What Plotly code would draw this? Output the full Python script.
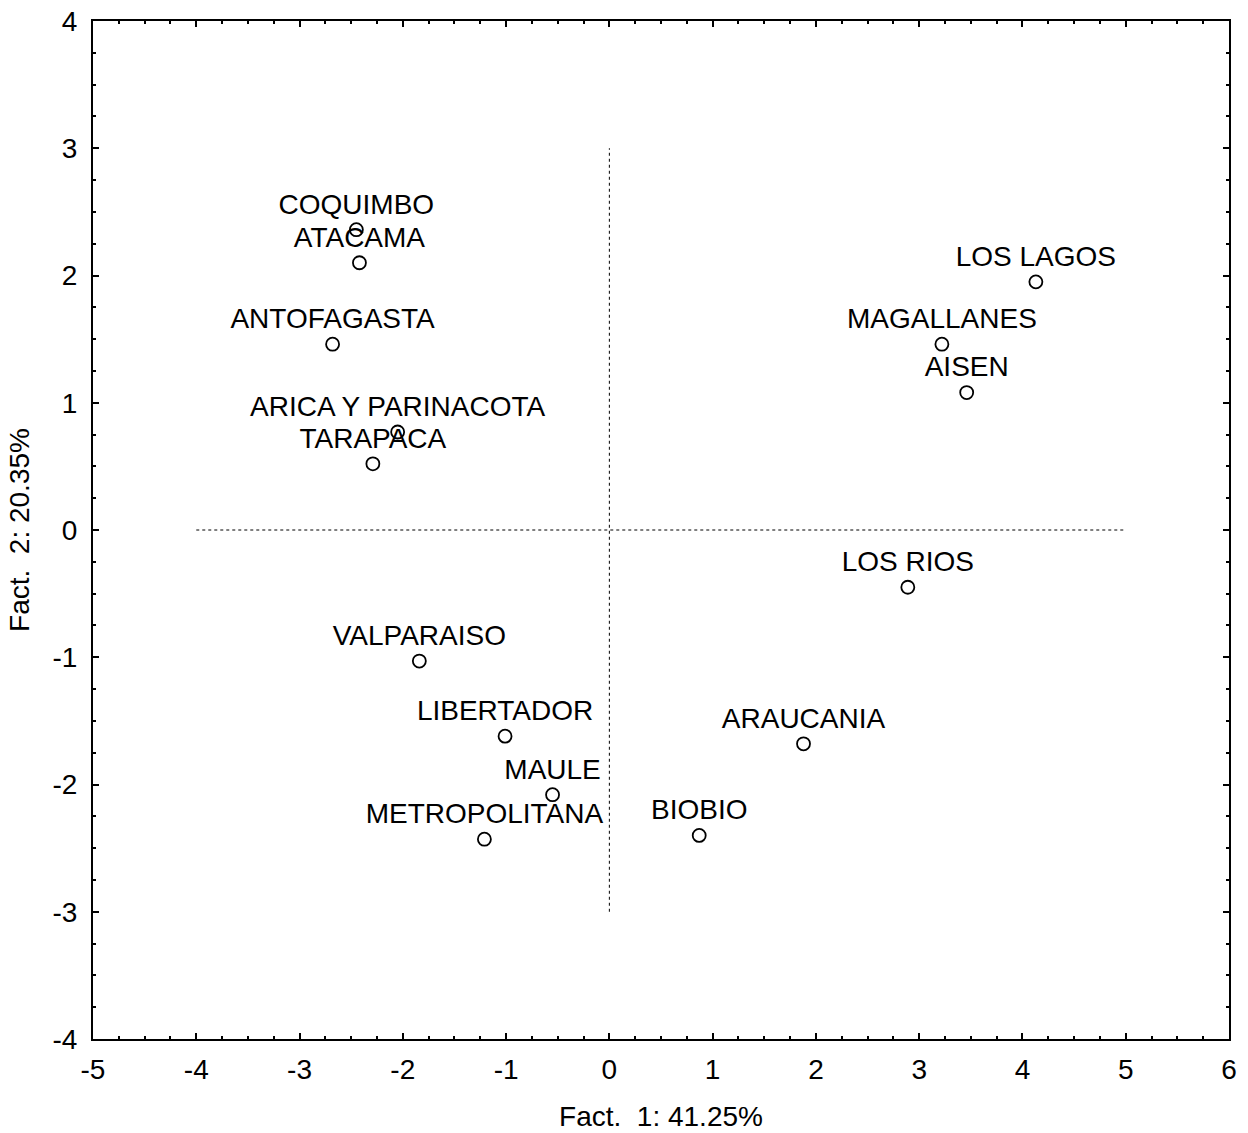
import plotly.graph_objects as go

regions = ["COQUIMBO", "ATACAMA", "ANTOFAGASTA", "ARICA Y PARINACOTA", "TARAPACA",
           "VALPARAISO", "LIBERTADOR", "MAULE", "METROPOLITANA", "BIOBIO",
           "ARAUCANIA", "LOS RIOS", "AISEN", "MAGALLANES", "LOS LAGOS"]
fact1 = [-2.45, -2.42, -2.68, -2.05, -2.29,
         -1.84, -1.01, -0.55, -1.21, 0.87,
         1.88, 2.89, 3.46, 3.22, 4.13]
fact2 = [2.36, 2.10, 1.46, 0.77, 0.52,
         -1.03, -1.62, -2.08, -2.43, -2.40,
         -1.68, -0.45, 1.08, 1.46, 1.95]

# reference (dotted) lines
hline_x = [-4, 5]
hline_y = [0, 0]
vline_x = [0, 0]
vline_y = [-3, 3]

x_ticks = [-5, -4, -3, -2, -1, 0, 1, 2, 3, 4, 5, 6]
x_tick_labels = ["-5", "-4", "-3", "-2", "-1", "0", "1", "2", "3", "4", "5", "6"]
y_ticks = [-4, -3, -2, -1, 0, 1, 2, 3, 4]
y_tick_labels = ["-4", "-3", "-2", "-1", "0", "1", "2", "3", "4"]

FONT = "Liberation Sans, Arial, sans-serif"
FS = 28

fig = go.Figure()
fig.add_trace(go.Scatter(x=hline_x, y=hline_y, mode="lines",
                         line=dict(color="black", width=1, dash="dot"),
                         hoverinfo="skip", showlegend=False))
fig.add_trace(go.Scatter(x=vline_x, y=vline_y, mode="lines",
                         line=dict(color="black", width=1, dash="dot"),
                         hoverinfo="skip", showlegend=False))
fig.add_trace(go.Scatter(
    x=fact1, y=fact2, mode="markers+text", text=regions,
    textposition="top center",
    textfont=dict(family=FONT, size=FS, color="black"),
    marker=dict(symbol="circle-open", size=13, color="black", line=dict(width=1.8, color="black")),
    showlegend=False, cliponaxis=False))

axis_common = dict(
    showline=True, linecolor="black", linewidth=2, mirror="allticks",
    ticks="inside", ticklen=6, tickwidth=1.5, tickcolor="black",
    showgrid=False, zeroline=False, automargin=False, ticklabeloverflow="allow",
    tickfont=dict(family=FONT, size=FS, color="black"),
    minor=dict(ticks="inside", ticklen=3, tickwidth=1.5, tickcolor="black", dtick=0.25, showgrid=False),
)

fig.update_xaxes(range=[-5, 6], tickmode="array", tickvals=x_ticks, ticktext=x_tick_labels,
                 title=dict(text="Fact.  1: 41.25%", font=dict(family=FONT, size=FS, color="black"), standoff=23),
                 ticklabelstandoff=4, **axis_common)
fig.update_yaxes(range=[-4, 4], tickmode="array", tickvals=y_ticks, ticktext=y_tick_labels,
                 title=dict(text="Fact.  2: 20.35%", font=dict(family=FONT, size=FS, color="black"), standoff=15),
                 ticklabelstandoff=8, **axis_common)

fig.update_layout(
    width=1248, height=1133,
    margin=dict(l=93, r=19, t=21, b=94),
    paper_bgcolor="white", plot_bgcolor="white",
    font=dict(family=FONT, size=FS, color="black"),
)

fig.write_html("out.html", config={"displayModeBar": False},
               post_script="document.body.style.margin='0px';")
